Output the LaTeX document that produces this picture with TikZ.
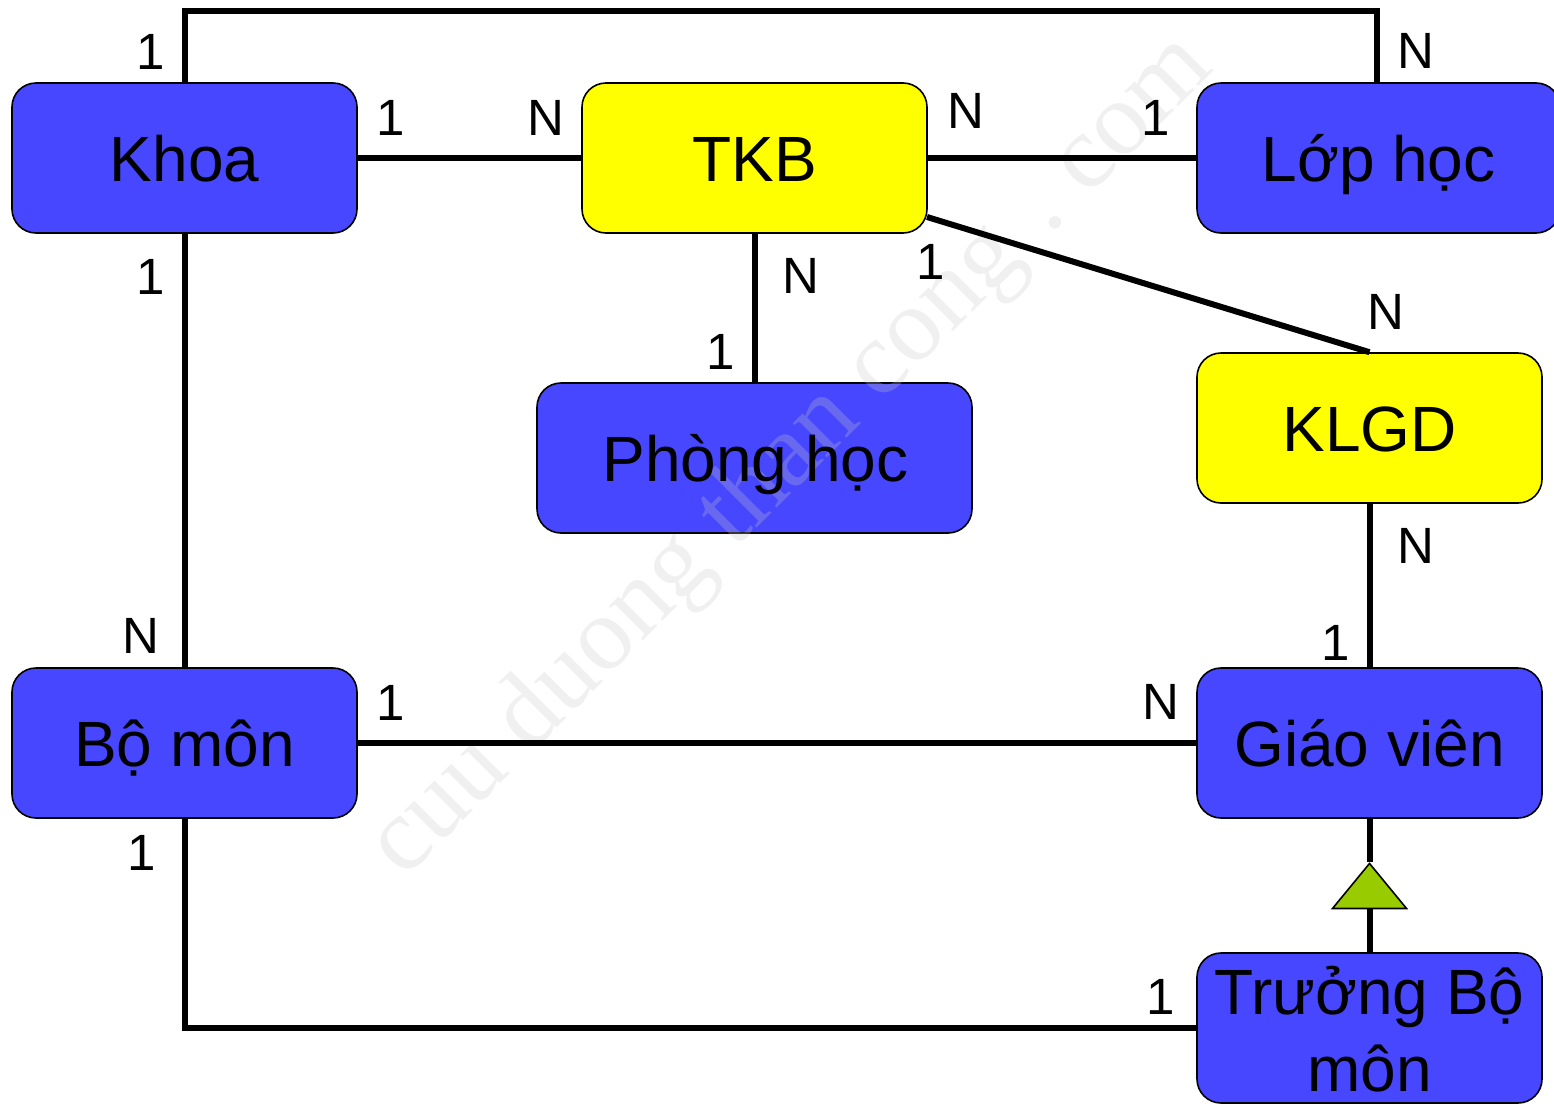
\documentclass[tikz,border=0pt]{standalone}
\usepackage{fontspec}
\setmainfont{Liberation Sans}
\newfontfamily\wmfont{Liberation Serif}
\usetikzlibrary{shapes.geometric}
\definecolor{boxblue}{RGB}{71,71,255}
\definecolor{boxyellow}{RGB}{255,255,0}
\definecolor{triGreen}{RGB}{153,204,0}
\definecolor{wm}{RGB}{200,200,200}
\tikzset{
 ent/.style={draw=black,line width=1.6pt,rounded corners=24pt,minimum width=345pt,minimum height=150pt,inner sep=0pt},
 blue/.style={ent,fill=boxblue},
 yel/.style={ent,fill=boxyellow},
 lbl/.style={inner sep=0pt,font=\fontsize{64}{78}\selectfont,align=center,text=black,text height=62pt,text depth=15pt},
 lnk/.style={line width=6pt,draw=black,line cap=butt},
 card/.style={font=\fontsize{51}{51}\selectfont,inner sep=0pt,text=black},
}
\begin{document}
\begin{tikzpicture}[x=1pt,y=-1pt]
\useasboundingbox (0,0) rectangle (1554,1103);
\begin{scope}
\clip (0,0) rectangle (1554,1103);
% boxes
\node[blue] (khoa) at (184.5,158) {};
\node[yel] (tkb) at (754.5,158) {};
\node[blue,minimum width=363pt] (lop) at (1378.5,158) {};
\node[blue,minimum width=435pt] (phong) at (754.5,458) {};
\node[yel] (klgd) at (1369.5,428) {};
\node[blue] (bomon) at (184.5,743) {};
\node[blue] (gv) at (1369.5,743) {};
\node[blue] (tbm) at (1369.5,1028) {};
\end{scope}
% watermark
\node[rotate=45,text=wm,opacity=.27,font=\fontsize{105}{105}\selectfont\wmfont,inner sep=0pt] (wmk) at (792,457) {cuu duong than cong\hspace{8pt} .\hspace{-8pt} com};
% triangle
\node[isosceles triangle,isosceles triangle apex angle=80,shape border rotate=90,draw=black,line width=1.6pt,fill=triGreen,minimum height=45pt,inner sep=0pt,isosceles triangle stretches,minimum width=74pt] (tri) at (1369.5,891) {};
\coordinate (topl) at (184.5,11);
\coordinate (topr) at (1377,11);
\coordinate (lopt) at (1377,83);
\coordinate (botl) at (184.5,1028);
\coordinate (tkbc) at (927,217);
% connectors
\draw[lnk] (khoa.north) -- (topl) -- (topr) -- (lopt);
\draw[lnk] (khoa.east) -- (tkb.west);
\draw[lnk] (tkb.east) -- (lop.west);
\draw[lnk] (tkb.south) -- (phong.north);
\draw[lnk] (tkbc) -- (klgd.north);
\draw[lnk] (khoa.south) -- (bomon.north);
\draw[lnk] (bomon.east) -- (gv.west);
\draw[lnk] (klgd.south) -- (gv.north);
\draw[lnk] (gv.south) -- (tri.apex);
\draw[lnk] (tri.south) -- (tbm.north);
\draw[lnk] (bomon.south) -- (botl) -- (tbm.west);
% box texts
\node[lbl] (khoaT) at (184.5,158) {Khoa};
\node[lbl] (tkbT) at (754.5,158) {TKB};
\node[lbl] (lopT) at (1378.5,158) {Lớp học};
\node[lbl] (phongT) at (755.5,458) {Phòng học};
\node[lbl] (klgdT) at (1369.5,428) {KLGD};
\node[lbl] (bomonT) at (184.5,743) {Bộ môn};
\node[lbl] (gvT) at (1369.5,743) {Giáo viên};
\node[inner sep=0pt,font=\fontsize{64}{77}\selectfont,align=center] (tbmT) at (1369.5,1029) {Trưởng Bộ\\môn};
% cardinalities
\node[card] (c1) at (151,52) {1};
\node[card] (c2) at (1416,51) {N};
\node[card] (c3) at (391,118) {1};
\node[card] (c4) at (546,118) {N};
\node[card] (c5) at (966,111) {N};
\node[card] (c6) at (1156,118) {1};
\node[card] (c7) at (151,277) {1};
\node[card] (c8) at (801,276) {N};
\node[card] (c9) at (931,262) {1};
\node[card] (c10) at (721,352) {1};
\node[card] (c11) at (1386,312) {N};
\node[card] (c12) at (1416,546) {N};
\node[card] (c13) at (141,636) {N};
\node[card] (c14) at (1336,643) {1};
\node[card] (c15) at (391,703) {1};
\node[card] (c16) at (1161,702) {N};
\node[card] (c17) at (142,853) {1};
\node[card] (c18) at (1161,997) {1};
\end{tikzpicture}
\end{document}
